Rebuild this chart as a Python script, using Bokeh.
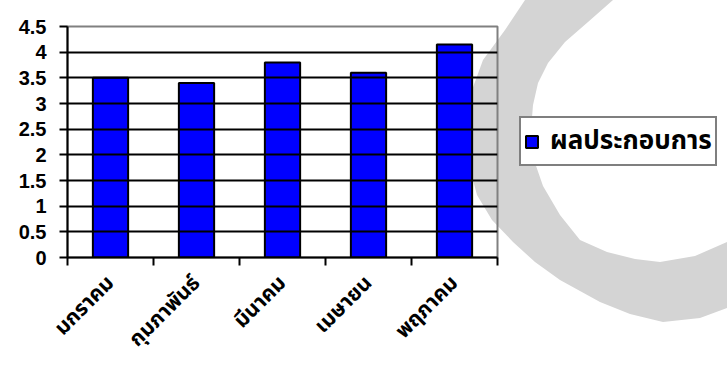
from math import pi
import base64
from bokeh.plotting import figure
from bokeh.layouts import row
from bokeh.models import (Range1d, FixedTicker, NumeralTickFormatter, Legend,
                          LegendItem)
from bokeh.embed import file_html
from bokeh.resources import INLINE

# ---- data ----
months = ["มกราคม", "กุมภาพันธ์", "มีนาคม", "เมษายน", "พฤภาคม"]
values = [3.5, 3.4, 3.8, 3.6, 4.15]
series_name = "ผลประกอบการ"
y_ticks = [0, 0.5, 1, 1.5, 2, 2.5, 3, 3.5, 4, 4.5]

# decorative grey watermark swoosh behind the chart (page pixels)
swoosh_outer_x = [525, 505, 483, 472, 467, 466, 469, 477, 492, 513, 535, 560, 600, 630, 663, 700, 727]
swoosh_outer_y = [0, 30, 60, 90, 115, 140, 165, 195, 220, 242, 262, 280, 302, 314, 322, 318, 308]
swoosh_inner_x = [727, 695, 660, 635, 607, 580, 560, 543, 534, 531, 533, 538, 548, 565, 588, 613]
swoosh_inner_y = [242, 256, 262, 259, 252, 240, 215, 186, 160, 130, 105, 83, 63, 42, 22, 0]

W, H = 727, 372
x_pos = [i + 0.5 for i in range(len(months))]
thai_font = "Tahoma, 'Noto Sans Thai', 'Noto Sans', sans-serif"

pts = list(zip(swoosh_outer_x + swoosh_inner_x, swoosh_outer_y + swoosh_inner_y))
path = "M" + " L".join(f"{x} {y}" for x, y in pts) + " Z"
svg = (f'<svg xmlns="http://www.w3.org/2000/svg" width="{W}" height="{H}">'
       f'<path d="{path}" fill="#d4d4d4"/></svg>')
svg_uri = "data:image/svg+xml;base64," + base64.b64encode(svg.encode()).decode()

borders = dict(min_border_top=26, min_border_bottom=115)

# ---- main chart ----
p = figure(width=519, height=H, min_border_left=67, min_border_right=22, **borders,
           x_range=Range1d(0, len(months)), y_range=Range1d(0, 4.5),
           output_backend="svg", toolbar_location=None,
           background_fill_alpha=0.0, border_fill_alpha=0.0)

p.outline_line_color = "#808080"
p.outline_line_width = 2

bar_style = dict(fill_color="#0000FF", line_color="black", line_width=2)
bars = p.vbar(x=x_pos, top=values, width=0.41, **bar_style)

p.yaxis.ticker = FixedTicker(ticks=y_ticks)
p.yaxis.formatter = NumeralTickFormatter(format="0.[0]")
p.yaxis.major_label_text_font = "Liberation Sans"
p.yaxis.major_label_text_font_style = "bold"
p.yaxis.major_label_text_font_size = "20px"
p.yaxis.major_label_text_color = "black"
p.yaxis.major_tick_out = 8
p.yaxis.major_tick_in = 0
p.yaxis.major_tick_line_width = 2
p.yaxis.major_tick_line_color = "black"
p.yaxis.minor_tick_line_color = None
p.yaxis.axis_line_width = 2
p.yaxis.axis_line_color = "black"
p.yaxis.major_label_standoff = 13

p.ygrid.grid_line_color = "black"
p.ygrid.grid_line_width = 2
p.ygrid.level = "glyph"
p.xgrid.visible = False

p.xaxis.ticker = FixedTicker(ticks=x_pos, minor_ticks=list(range(len(months) + 1)))
p.xaxis.major_label_overrides = {x: m for x, m in zip(x_pos, months)}
p.xaxis.major_tick_line_color = None
p.xaxis.minor_tick_line_color = "black"
p.xaxis.minor_tick_line_width = 2
p.xaxis.minor_tick_out = 8
p.xaxis.minor_tick_in = 0
p.xaxis.axis_line_width = 2
p.xaxis.axis_line_color = "black"
p.xaxis.major_label_orientation = pi / 4
p.xaxis.major_label_text_font = thai_font
p.xaxis.major_label_text_font_style = "bold"
p.xaxis.major_label_text_font_size = "21px"
p.xaxis.major_label_text_color = "black"
p.xaxis.major_label_standoff = 14

# ---- legend panel (frame aligned with the main chart's frame) ----
pl = figure(width=W - 519, height=H, min_border_left=0, min_border_right=0, **borders,
            x_range=Range1d(0, 1), y_range=Range1d(0, 1),
            x_axis_type=None, y_axis_type=None,
            output_backend="svg", toolbar_location=None,
            background_fill_alpha=0.0, border_fill_alpha=0.0)
pl.outline_line_color = None
pl.grid.visible = False
key = pl.vbar(x=x_pos, top=values, width=0.41, visible=False, **bar_style)

legend = Legend(items=[LegendItem(label=series_name, renderers=[key])],
                location=(0, 91))
legend.border_line_color = "black"
legend.border_line_width = 2
legend.background_fill_color = "white"
legend.background_fill_alpha = 1.0
legend.inactive_fill_alpha = 0.0
legend.padding = 3
legend.margin = 0
legend.glyph_width = 15
legend.glyph_height = 15
legend.label_standoff = 11
legend.label_height = 26
legend.label_text_font = thai_font
legend.label_text_font_style = "bold"
legend.label_text_font_size = "26px"
legend.label_text_color = "black"
pl.add_layout(legend)

layout = row(p, pl, spacing=0)
layout.styles = {"background-color": "white",
                 "background-image": f"url('{svg_uri}')",
                 "background-repeat": "no-repeat",
                 "background-position": "0px 0px",
                 "background-size": f"{W}px {H}px"}

open("out.html", "w").write(file_html(layout, INLINE))
